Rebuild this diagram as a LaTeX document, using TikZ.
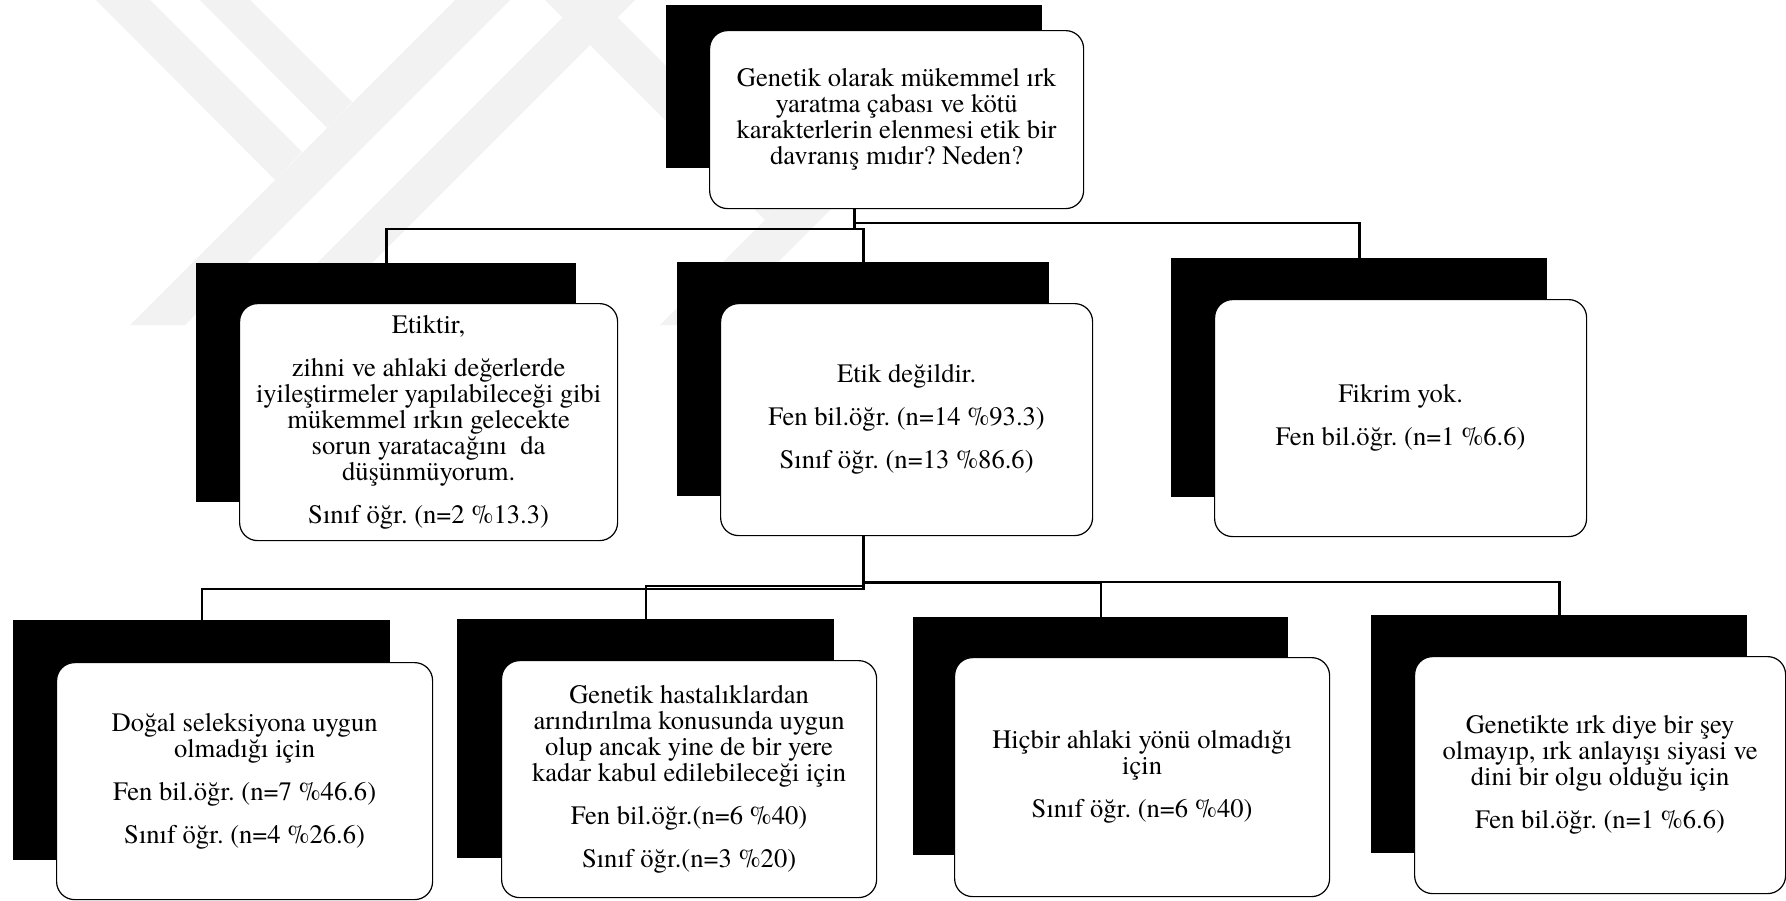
\documentclass[tikz,border=0pt]{standalone}
\usepackage{fontspec}
\setmainfont{texgyretermes-regular.otf}
\usetikzlibrary{backgrounds}
\frenchspacing
\begin{document}
\begin{tikzpicture}[x=0.5pt,y=-0.5pt]
        \tikzset{blk/.style = {shape=rectangle,fill=black,inner sep=0pt,anchor=north west}}
        \tikzset{card/.style = {shape=rectangle,draw,fill=white,line width=0.6pt,rounded corners=9pt,inner sep=0pt,anchor=north west,align=center,font=\fontsize{13.3}{13}\selectfont}}
        \tikzset{conn/.style = {line width=1.2pt}}
        \tikzset{wm/.style = {fill=black!5}}
        \useasboundingbox (0,0) rectangle (1786,900);
        \node[blk,minimum width=188pt,minimum height=81.5pt] (qs) at (666,5) {};
        \node[card,minimum width=187pt,minimum height=89pt] (q) at (709,30)
            {Genetik olarak mükemmel ırk\\ yaratma çabası ve kötü\\ karakterlerin elenmesi etik bir\\ davranış mıdır? Neden?};
        \node[blk,minimum width=190pt,minimum height=119.5pt] (es) at (196,263) {};
        \node[card,minimum width=189pt,minimum height=118.5pt] (e) at (239,303)
            {Etiktir,\\[8.5pt] zihni ve ahlaki değerlerde\\ iyileştirmeler yapılabileceği gibi\\ mükemmel ırkın gelecekte\\ sorun yaratacağını~ da\\ düşünmüyorum.\\[8.5pt] Sınıf öğr. (n=2 \%13.3)};
        \node[blk,minimum width=186pt,minimum height=117pt] (ns) at (677,262) {};
        \node[card,minimum width=186pt,minimum height=116pt] (n) at (720,303)
            {Etik değildir.\\[8.5pt] Fen bil.öğr. (n=14 \%93.3)\\[8.5pt] Sınıf öğr. (n=13 \%86.6)};
        \node[blk,minimum width=188pt,minimum height=119.5pt] (fs) at (1171,258) {};
        \node[card,minimum width=186pt,minimum height=118.5pt] (f) at (1214,299)
            {Fikrim yok.\\[8.5pt] Fen bil.öğr. (n=1 \%6.6)};
        \node[blk,minimum width=188.5pt,minimum height=120pt] (as) at (13,620) {};
        \node[card,minimum width=188pt,minimum height=118.5pt] (a) at (56,662)
            {Doğal seleksiyona uygun\\ olmadığı için\\[8.5pt] Fen bil.öğr. (n=7 \%46.6)\\[8.5pt] Sınıf öğr. (n=4 \%26.6)};
        \node[blk,minimum width=188.5pt,minimum height=119.5pt] (bs) at (457,619) {};
        \node[card,minimum width=187.5pt,minimum height=118.5pt] (b) at (501,660)
            {Genetik hastalıklardan\\ arındırılma konusunda uygun\\ olup ancak yine de bir yere\\ kadar kabul edilebileceği için\\[8.5pt] Fen bil.öğr.(n=6 \%40)\\[8.5pt] Sınıf öğr.(n=3 \%20)};
        \node[blk,minimum width=187.5pt,minimum height=119pt] (cs) at (913,617) {};
        \node[card,minimum width=187.5pt,minimum height=119.5pt] (c) at (954,657)
            {Hiçbir ahlaki yönü olmadığı\\ için\\[8.5pt] Sınıf öğr. (n=6 \%40)};
        \node[blk,minimum width=188pt,minimum height=119pt] (ds) at (1371,615) {};
        \node[card,minimum width=185.5pt,minimum height=118.5pt] (d) at (1414,656)
            {Genetikte ırk diye bir şey\\ olmayıp, ırk anlayışı siyasi ve\\ dini bir olgu olduğu için\\[8.5pt] Fen bil.öğr. (n=1 \%6.6)};
    \begin{pgfonlayer}{background}
        \fill[wm] (96,0) -- (150,0) -- (302,152) -- (275,180) -- cycle;
        \fill[wm] (200,0) -- (250,0) -- (352,102) -- (327,128) -- cycle;
        \fill[wm] (455,0) -- (510,0) -- (185,325) -- (130,325) -- cycle;
        \fill[wm] (580,0) -- (635,0) -- (310,325) -- (255,325) -- cycle;
        \fill[wm] (545,0) -- (600,0) -- (792,192) -- (765,220) -- cycle;
        \fill[wm] (815,170) -- (870,170) -- (715,325) -- (660,325) -- cycle;
        \draw[conn] (qs.south) -- ++(0,60) -| (es.north);
        \draw[conn] (qs.south) -- ++(0,60) -| (ns.north);
        \draw[conn] (qs.south) -- ++(0,54) -| (fs.north);
        \draw[conn] (ns.south) -- ++(0,92) -| (as.north);
        \draw[conn] (ns.south) -- ++(0,89) -| (bs.north);
        \draw[conn] (ns.south) -- ++(0,86) -| (cs.north);
        \draw[conn] (ns.south) -- ++(0,85) -| (ds.north);
    \end{pgfonlayer}
\end{tikzpicture}
\end{document}
